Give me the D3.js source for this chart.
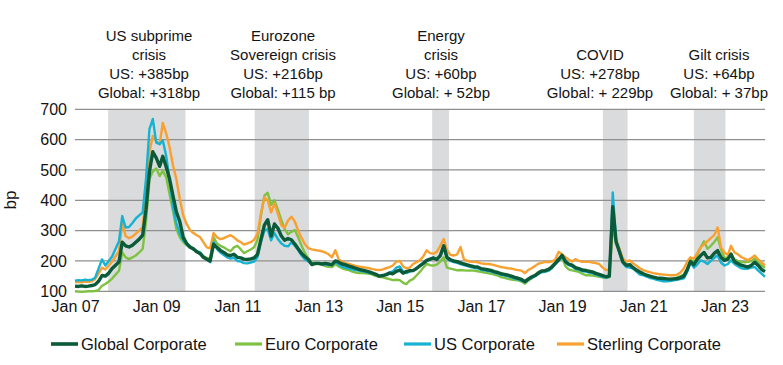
<!DOCTYPE html>
<html><head><meta charset="utf-8">
<script src="https://cdn.jsdelivr.net/npm/d3@7/dist/d3.min.js"></script>
<style>
body{margin:0;background:#fff}
text{font-family:"Liberation Sans",Arial,sans-serif;fill:#141414}
</style>
</head><body>
<svg id="chart" width="783" height="365"></svg>
<script>
// ---------- DATA (monthly, Jan 2007 – Jan 2024), spreads in bp ----------
const firstMonth = "2007-01-01";
const lastMonth = "2024-01-01";

const globalCorporate = [
  117,116,118,116,117,119,122,133,152,150,160,175,
  186,197,262,250,246,252,262,272,285,370,495,560,
  540,512,545,510,470,415,362,330,278,258,246,240,
  230,224,212,206,200,255,245,235,228,220,218,222,
  212,210,206,205,207,210,222,270,318,336,282,322,
  308,282,268,274,270,256,240,225,214,205,188,192,
  192,190,192,190,188,200,196,190,187,183,180,176,
  172,170,167,164,160,156,150,152,155,160,158,166,
  170,160,165,168,168,175,184,192,202,206,210,205,
  218,250,212,204,200,198,194,190,187,184,181,180,
  175,173,171,169,165,162,158,156,153,150,146,143,
  139,132,140,147,152,160,167,168,172,180,192,205,
  219,198,190,186,178,175,170,169,166,164,159,156,
  152,148,150,379,263,230,197,186,188,178,170,164,
  158,153,150,147,144,143,142,141,140,141,142,145,
  150,172,198,188,205,218,228,210,212,225,234,212,
  202,206,222,198,192,186,183,180,186,196,185,172,
  165
];
const euroCorporate = [
  100,99,98,99,100,100,101,104,118,124,132,142,
  155,168,228,212,206,212,218,228,240,330,470,495,
  505,480,498,475,420,365,305,278,262,252,244,238,
  232,225,215,210,208,278,258,250,245,238,232,245,
  250,238,226,232,238,245,270,350,415,425,385,400,
  368,335,305,288,296,302,278,250,225,208,196,190,
  190,188,183,181,180,190,182,176,172,170,165,162,
  160,160,159,158,155,150,148,146,143,140,137,138,
  137,128,124,135,140,152,164,178,190,186,185,188,
  198,212,178,175,172,169,170,169,168,169,168,166,
  164,162,160,158,155,152,147,144,141,139,137,136,
  132,125,135,142,152,164,166,169,172,184,195,200,
  212,182,172,169,167,164,158,153,153,152,150,148,
  146,144,147,310,262,235,200,185,182,175,168,162,
  155,150,148,145,142,141,140,140,140,142,145,150,
  155,175,205,195,220,245,265,240,250,262,278,238,
  210,212,225,205,200,197,196,197,200,208,195,185,
  178
];
const usCorporate = [
  135,137,136,138,137,138,145,175,205,185,200,215,
  240,265,348,310,312,325,340,350,360,470,635,668,
  590,585,598,545,470,375,325,290,268,255,245,238,
  232,228,215,205,196,262,240,228,220,212,208,210,
  200,198,193,192,195,198,212,262,300,305,268,292,
  272,258,250,248,262,250,236,218,205,198,192,190,
  192,190,188,187,186,198,188,181,178,175,172,170,
  168,166,163,161,158,155,150,152,156,162,166,178,
  182,165,160,165,168,175,185,192,200,205,210,207,
  216,248,208,200,196,194,190,186,183,180,177,176,
  171,169,167,165,161,158,154,152,149,146,142,139,
  135,130,137,144,149,157,163,164,168,176,190,200,
  214,195,186,182,174,171,166,165,162,160,155,152,
  147,145,148,426,268,225,193,180,178,175,165,155,
  153,148,144,142,138,135,133,133,134,136,138,140,
  143,165,195,178,188,202,198,190,200,210,219,195,
  185,190,202,190,183,176,174,175,178,180,168,158,
  148
];
const sterlingCorporate = [
  130,131,130,132,131,133,140,158,178,172,185,198,
  215,232,325,282,275,280,290,300,312,420,560,612,
  595,585,655,620,575,515,470,405,350,322,302,292,
  285,278,262,245,242,292,278,272,275,280,285,278,
  268,262,254,258,262,270,290,355,410,400,360,390,
  355,318,310,333,346,330,300,275,255,242,238,236,
  234,232,228,222,212,235,205,198,193,190,187,184,
  181,180,178,176,173,171,170,172,176,180,185,198,
  200,182,176,178,190,196,202,215,235,226,224,230,
  250,272,236,220,218,222,246,205,200,197,197,196,
  192,191,190,189,186,183,180,178,176,175,172,170,
  168,160,170,176,183,191,194,197,196,198,205,230,
  222,212,205,198,206,200,197,198,197,195,193,190,
  178,170,172,318,270,240,208,198,202,192,184,176,
  170,166,163,160,158,156,155,154,153,153,155,162,
  175,198,212,208,225,245,255,265,275,285,310,245,
  228,220,250,228,222,213,208,203,210,218,205,195,
  186
];

const seriesNames = ["Global Corporate","Euro Corporate","US Corporate","Sterling Corporate"];
const seriesColors = ["#0b5a39","#7fc242","#16b2d2","#f8a030"];

const yTickValues = [100,200,300,400,500,600,700];
const xTickDates = ["2007-01-01","2009-01-01","2011-01-01","2013-01-01","2015-01-01",
                    "2017-01-01","2019-01-01","2021-01-01","2023-01-01"];

const crisisStart = ["2007-10-26","2011-06-06","2015-10-20","2020-01-03","2022-04-01"];
const crisisEnd   = ["2009-09-21","2012-10-06","2016-03-20","2020-08-12","2023-01-10"];
const crisisLabels = [
  ["US subprime","crisis","US: +385bp","Global: +318bp"],
  ["Eurozone","Sovereign crisis","US: +216bp","Global: +115 bp"],
  ["Energy","crisis","US: +60bp","Global: + 52bp"],
  ["","COVID","US: +278bp","Global: + 229bp"],
  ["","Gilt crisis","US: +64bp","Global: + 37bp"]
];

// ---------- CHART ----------
const svg = d3.select("#chart");
const parse = d3.timeParse("%Y-%m-%d");
const months = d3.timeMonth.range(parse(firstMonth), d3.timeDay.offset(parse(lastMonth), 1));

const x = d3.scaleTime().domain([parse("2007-01-01"), parse("2024-01-01")]).range([75, 765]);
const y = d3.scaleLinear().domain([100, 700]).range([291.3, 109.3]);

// crisis shading
svg.append("g").selectAll("rect").data(crisisStart).join("rect")
  .attr("x", (d) => x(parse(d)))
  .attr("width", (d, i) => x(parse(crisisEnd[i])) - x(parse(d)))
  .attr("y", y(700)).attr("height", y(100) - y(700))
  .attr("fill", "#dadbdc");

// gridlines
svg.append("g").selectAll("line").data(yTickValues).join("line")
  .attr("x1", 75).attr("x2", 765)
  .attr("y1", (d) => y(d)).attr("y2", (d) => y(d))
  .attr("stroke", "#8f8f8f").attr("stroke-width", 1.2);

// y axis labels
const yAxis = d3.axisLeft(y).tickValues(yTickValues).tickSize(0).tickPadding(0);
const gy = svg.append("g").attr("transform", "translate(67,0)").call(yAxis);
gy.select(".domain").remove();
gy.selectAll("text").attr("font-size", 16).attr("fill", "#141414")
  .style("font-family", '"Liberation Sans",Arial,sans-serif');

// x axis labels
const xAxis = d3.axisBottom(x).tickValues(xTickDates.map(parse))
  .tickFormat(d3.timeFormat("%b %y")).tickSize(0).tickPadding(0);
const gx = svg.append("g").attr("transform", "translate(0,301)").call(xAxis);
gx.select(".domain").remove();
gx.selectAll("text").attr("font-size", 16).attr("fill", "#141414")
  .style("font-family", '"Liberation Sans",Arial,sans-serif');

// y axis title
svg.append("text").attr("transform", "translate(16,200) rotate(-90)")
  .attr("text-anchor", "middle").attr("font-size", 17).text("bp");

// lines
const allSeries = [globalCorporate, euroCorporate, usCorporate, sterlingCorporate];
const drawOrder = [1, 3, 2, 0];
const widths = [3.4, 2.4, 2.4, 2.4];
const line = d3.line().x((d, i) => x(months[i])).y((d) => y(d));
drawOrder.forEach((k) => {
  svg.append("path").datum(allSeries[k])
    .attr("d", line).attr("fill", "none")
    .attr("stroke", seriesColors[k]).attr("stroke-width", widths[k])
    .attr("stroke-linejoin", "round");
});

// crisis annotations
const annoX = [149, 283, 441, 600, 719];
const annoY = [41, 60, 79, 98];
crisisLabels.forEach((lines, i) => {
  lines.forEach((t, j) => {
    if (!t) return;
    svg.append("text").attr("x", annoX[i]).attr("y", annoY[j])
      .attr("text-anchor", "middle").attr("font-size", 15).text(t);
  });
});

// legend
const legendX = [51, 235, 404, 557];
seriesNames.forEach((n, i) => {
  const g = svg.append("g").attr("transform", `translate(${legendX[i]},344)`);
  g.append("line").attr("x1", 0).attr("x2", 27).attr("y1", 0).attr("y2", 0)
    .attr("stroke", seriesColors[i]).attr("stroke-width", i === 0 ? 3.6 : 3.2);
  g.append("text").attr("x", 30).attr("y", 5.5).attr("font-size", 16.5).text(n);
});
</script>
</body></html>
